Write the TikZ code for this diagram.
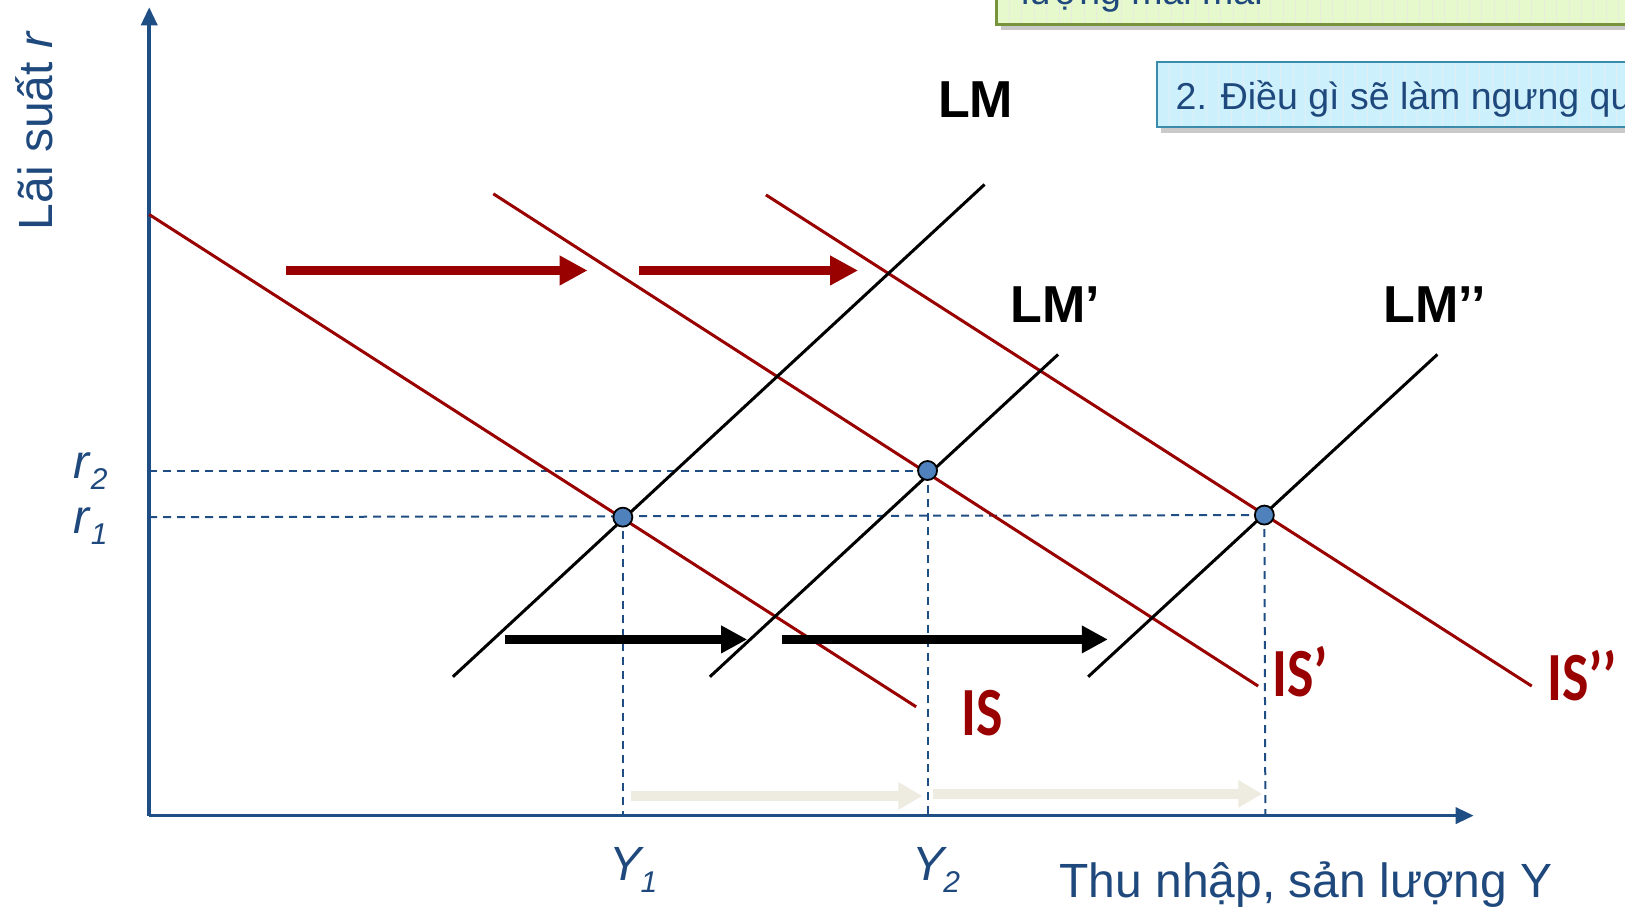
\documentclass[tikz,border=0pt]{standalone}
\usepackage{fontspec}
\setmainfont{Liberation Sans}
\newfontfamily\carlito{Carlito}
\usetikzlibrary{arrows.meta}
\definecolor{axblue}{HTML}{1F4E85}
\definecolor{isred}{HTML}{990000}
\definecolor{ptblue}{HTML}{4F81BD}
\definecolor{beigec}{HTML}{EEEBE0}
\definecolor{boxcyan}{HTML}{CCF0FC}
\definecolor{boxcyanline}{HTML}{3B8BAA}
\definecolor{boxgreen}{HTML}{E6F9CC}
\definecolor{boxgreenline}{HTML}{77933C}
\definecolor{txtblue}{HTML}{1F497D}
\begin{document}
\begin{tikzpicture}[x=1.0364pt,y=-1.0364pt,
  axisline/.style={axblue, line width=3.5pt, -{Triangle[length=18pt,width=16pt]}},
  isline/.style={isred, line width=3pt},
  lmline/.style={black, line width=3pt},
  guide/.style={axblue, line width=2pt, dash pattern=on 8pt off 6pt},
  eqpt/.style={circle, draw=black, line width=1.8pt, fill=ptblue, inner sep=0pt, minimum size=19pt},
  redarrow/.style={isred, line width=9pt, -{Triangle[length=28pt,width=28pt]}},
  blkarrow/.style={black, line width=9pt, -{Triangle[length=26pt,width=26pt]}},
  beigearrow/.style={beigec, line width=10pt, -{Triangle[length=24pt,width=26pt]}},
  bluetxt/.style={txtblue, font=\fontsize{48}{58}\selectfont},
  lmlab/.style={black, anchor=base west, font=\fontsize{52}{62}\selectfont\bfseries},
  islab/.style={isred, anchor=base west, xscale=0.81, font=\fontsize{69}{80}\selectfont\carlito\bfseries},
  boxtxt/.style={txtblue, anchor=base west, font=\fontsize{37.5}{46}\selectfont}
]
\useasboundingbox (0,0) rectangle (1568,878);
\clip (0,0) rectangle (1568,878);

% ---- top boxes ----
\fill[black!35, opacity=0.6] (966,-50) rectangle (1580,29);
\fill[boxgreen] (962,-50) rectangle (1580,24);
\foreach \xx in {974,986,...,1570} \draw[boxgreenline!18, line width=1pt] (\xx,-50) -- (\xx,23);
\draw[boxgreenline, line width=3pt] (962,-50) rectangle (1580,24);
\node[boxtxt] (q1) at (982,4) {lượng mãi mãi};

\fill[black!35, opacity=0.6] (1120,64) rectangle (1580,128);
\fill[boxcyan] (1116,60) rectangle (1580,123);
\foreach \xx in {1128,1140,...,1570} \draw[boxcyanline!15, line width=1pt] (\xx,61) -- (\xx,122);
\draw[boxcyanline, line width=2pt] (1116,60) rectangle (1580,123);
\node[boxtxt] (q2) at (1131,106) {2. Điều gì sẽ làm ngưng qu};

% ---- coordinates ----
\coordinate (O) at (144,787);
\coordinate (Ytop) at (144,7);
\coordinate (Xend) at (1422,787);
\coordinate (R2) at (144,454);
\coordinate (R1) at (144,499);
\coordinate (F1) at (601,787);
\coordinate (F2) at (895,787);
\coordinate (F3) at (1221,787);

\coordinate (ISa) at (144,207);  \coordinate (ISb) at (884,682);
\coordinate (IS1a) at (476,187); \coordinate (IS1b) at (1214,662);
\coordinate (IS2a) at (739,188); \coordinate (IS2b) at (1478,662);
\coordinate (LMa) at (437,653);  \coordinate (LMb) at (950,178);
\coordinate (LM1a) at (685,653); \coordinate (LM1b) at (1021,342);
\coordinate (LM2a) at (1050,653);\coordinate (LM2b) at (1387,342);

\coordinate (E1c) at (601,499);
\coordinate (E2c) at (895,454);
\coordinate (E3c) at (1220,497);

% ---- guides ----
\draw[guide] (R2) -- (E2c);
\draw[guide] (R1) -- (E3c);
\draw[guide] (E1c) -- (F1);
\draw[guide] (E2c) -- (F2);
\draw[guide] (E3c) -- (F3);

% ---- beige arrows ----
\coordinate (b1s) at (609,768); \coordinate (b1e) at (890,768);
\coordinate (b2s) at (900,766); \coordinate (b2e) at (1218,766);
\draw[beigearrow] (b1s) -- (b1e);
\draw[beigearrow] (b2s) -- (b2e);

% ---- axes ----
\draw[axisline] (O) -- (Ytop);
\draw[axisline] (O) -- (Xend);

% ---- curves ----
\draw[isline] (ISa) -- (ISb);
\draw[isline] (IS1a) -- (IS1b);
\draw[isline] (IS2a) -- (IS2b);
\draw[lmline] (LMa) -- (LMb);
\draw[lmline] (LM1a) -- (LM1b);
\draw[lmline] (LM2a) -- (LM2b);

% ---- shift arrows ----
\coordinate (r1s) at (276,261); \coordinate (r1e) at (567,261);
\coordinate (r2s) at (617,261); \coordinate (r2e) at (828,261);
\draw[redarrow] (r1s) -- (r1e);
\draw[redarrow] (r2s) -- (r2e);
\coordinate (k1s) at (487,617); \coordinate (k1e) at (721,617);
\coordinate (k2s) at (755,617); \coordinate (k2e) at (1069,617);
\draw[blkarrow] (k1s) -- (k1e);
\draw[blkarrow] (k2s) -- (k2e);

% ---- equilibria ----
\node[eqpt] (E1) at (E1c) {};
\node[eqpt] (E2) at (E2c) {};
\node[eqpt] (E3) at (E3c) {};

% ---- labels ----
\node[bluetxt, rotate=90, anchor=base] (ylab) at (51,126) {Lãi suất \textit{r}};
\node[bluetxt, anchor=base east, inner sep=0pt] (r2lab) at (104,462) {\textit{r}\raisebox{-0.22em}{\fontsize{30}{30}\selectfont\textit{2}}};
\node[bluetxt, anchor=base east, inner sep=0pt] (r1lab) at (104,515) {\textit{r}\raisebox{-0.22em}{\fontsize{30}{30}\selectfont\textit{1}}};
\node[bluetxt, anchor=base west, inner sep=0pt] (y1lab) at (588,850) {\textit{Y}\kern-0.08em\raisebox{-0.25em}{\fontsize{30}{30}\selectfont\textit{1}}};
\node[bluetxt, anchor=base west, inner sep=0pt] (y2lab) at (880,850) {\textit{Y}\kern-0.08em\raisebox{-0.25em}{\fontsize{30}{30}\selectfont\textit{2}}};
\node[bluetxt, anchor=base west, inner sep=0pt] (xlab) at (1022,866) {Thu nhập, sản lượng Y};

\node[lmlab, inner sep=0pt] (lm0) at (905,113) {LM};
\node[lmlab, inner sep=0pt] (lm1) at (975,311) {LM’};
\node[lmlab, inner sep=0pt] (lm2) at (1335,311) {LM’’};

\node[islab, inner sep=0pt] (is0) at (928,710) {IS};
\node[islab, inner sep=0pt] (is1) at (1228,672) {IS’};
\node[islab, inner sep=0pt] (is2) at (1493,676) {IS’’};
\end{tikzpicture}
\end{document}
